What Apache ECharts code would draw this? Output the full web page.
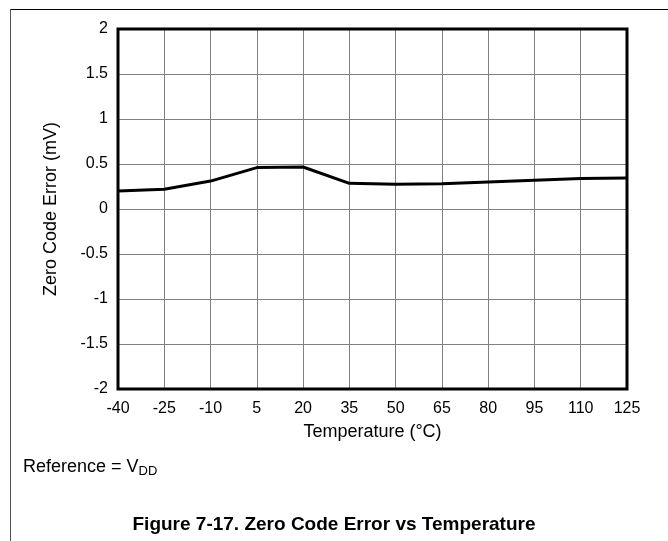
<!DOCTYPE html>
<html>
<head>
<meta charset="utf-8">
<script src="https://cdn.jsdelivr.net/npm/echarts@6/dist/echarts.min.js"></script>
<style>
  html, body { margin: 0; padding: 0; background: #fff; }
  #main { width: 668px; height: 541px; }
</style>
</head>
<body>
<div id="main"></div>
<script>
// temperature categories (°C)
const temps = ['-40', '-25', '-10', '5', '20', '35', '50', '65', '80', '95', '110', '125'];
// zero code error (mV)
const zeroCodeError = [0.20, 0.22, 0.31, 0.46, 0.467, 0.285, 0.275, 0.28, 0.30, 0.32, 0.34, 0.345];

const font = 'Liberation Sans, Arial, sans-serif';
const chart = echarts.init(document.getElementById('main'));

const option = {
  backgroundColor: '#fff',
  animation: false,
  grid: {
    left: 118, right: 41, top: 29, bottom: 152,
    show: false
  },
  xAxis: {
    type: 'category',
    data: temps,
    boundaryGap: false,
    name: 'Temperature (°C)',
    nameLocation: 'middle',
    nameGap: 34,
    nameTextStyle: { color: '#000', fontSize: 18, fontFamily: font },
    axisLine: { show: false },
    axisTick: { show: false },
    axisLabel: { color: '#000', fontSize: 16, fontFamily: font, margin: 12, interval: 0 },
    splitLine: { show: true, lineStyle: { color: '#808080', width: 1 } }
  },
  yAxis: {
    type: 'value',
    min: -2, max: 2, interval: 0.5,
    name: 'Zero Code Error (mV)',
    nameLocation: 'middle',
    nameGap: 58,
    nameTextStyle: { color: '#000', fontSize: 18, fontFamily: font },
    axisLine: { show: false },
    axisTick: { show: false },
    axisLabel: { color: '#000', fontSize: 16, fontFamily: font, margin: 10 },
    splitLine: { show: true, lineStyle: { color: '#808080', width: 1 } }
  },
  series: [{
    type: 'line',
    data: zeroCodeError,
    symbol: 'none',
    lineStyle: { color: '#000', width: 3 }
  }],
  graphic: [
    // plot frame
    { type: 'rect', z: 100, shape: { x: 118, y: 29, width: 509, height: 360 }, style: { fill: null, stroke: '#000', lineWidth: 3 } },
    // page border
    { type: 'line', shape: { x1: 10, y1: 9.5, x2: 668, y2: 9.5 }, style: { stroke: '#000', lineWidth: 1 } },
    { type: 'line', shape: { x1: 10.5, y1: 9, x2: 10.5, y2: 541 }, style: { stroke: '#555', lineWidth: 1 } },
    {
      type: 'text', left: 23, top: 458,
      style: {
        text: '{n|Reference = V}{s|DD}',
        rich: {
          n: { fontSize: 18, fontFamily: font, fill: '#000' },
          s: { fontSize: 13, fontFamily: font, fill: '#000', padding: [9, 0, 0, 0] }
        }
      }
    },
    {
      type: 'text', left: 'center', top: 515,
      style: { text: 'Figure 7-17. Zero Code Error vs Temperature', fontSize: 19, fontWeight: 'bold', fontFamily: font, fill: '#000' }
    }
  ]
};
chart.setOption(option);
</script>
</body>
</html>
